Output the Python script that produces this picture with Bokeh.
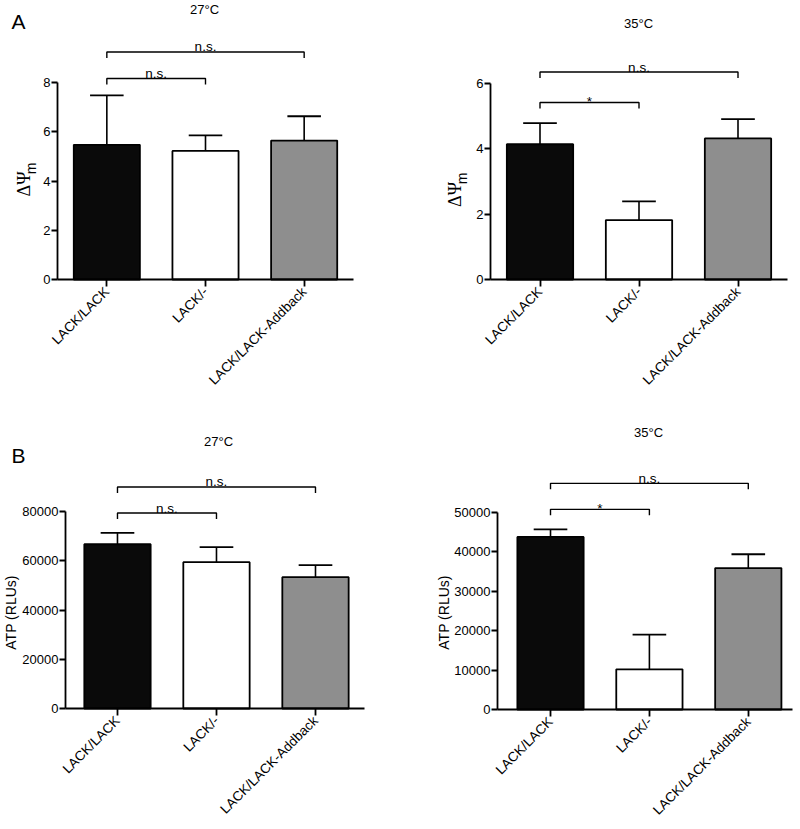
import math
from bokeh.plotting import figure
from bokeh.models import Range1d, FixedTicker, Label
from bokeh.layouts import row, column
from bokeh.embed import file_html
from bokeh.resources import INLINE

# ---------------- data ----------------
categories = ["LACK/LACK", "LACK/-", "LACK/LACK-Addback"]
bar_fill = ["#0a0a0a", "#ffffff", "#8e8e8e"]

dpsi27_mean = [5.47, 5.22, 5.64]
dpsi27_err = [2.01, 0.63, 0.99]
dpsi27_ticks = [0, 2, 4, 6, 8]
dpsi27_sig_pairs = [(0, 1), (0, 2)]
dpsi27_sig_y = [8.16, 9.24]
dpsi27_sig_text = ["n.s.", "n.s."]

dpsi35_mean = [4.14, 1.82, 4.32]
dpsi35_err = [0.65, 0.57, 0.59]
dpsi35_ticks = [0, 2, 4, 6]
dpsi35_sig_pairs = [(0, 1), (0, 2)]
dpsi35_sig_y = [5.42, 6.35]
dpsi35_sig_text = ["*", "n.s."]

atp27_mean = [66800, 59500, 53400]
atp27_err = [4600, 6100, 4900]
atp27_ticks = [0, 20000, 40000, 60000, 80000]
atp27_sig_pairs = [(0, 1), (0, 2)]
atp27_sig_y = [79500, 90100]
atp27_sig_text = ["n.s.", "n.s."]

atp35_mean = [43800, 10200, 35900]
atp35_err = [1900, 8800, 3500]
atp35_ticks = [0, 10000, 20000, 30000, 40000, 50000]
atp35_sig_pairs = [(0, 1), (0, 2)]
atp35_sig_y = [50800, 57400]
atp35_sig_text = ["*", "n.s."]

FONT = "Liberation Sans"
SERIF = "Liberation Serif"


def make_panel(mean, err, ticks, sig_pairs, sig_y, sig_text, title, letter, ylabel, lay):
    W, H = lay["size"]
    ox, oy = lay["origin"]
    fl, fr = lay["frame_x"]          # page x of y-axis and of x-axis end
    fb = lay["frame_bottom"]          # page y of value 0
    x0, x1 = lay["xrange"]
    ppu = lay["ppu"]
    sx = (x1 - x0) / (fr - fl)
    X0 = x0 + (ox - fl) * sx
    X1 = x0 + (ox + W - fl) * sx
    fb_loc = fb - oy
    Y0 = -(H - fb_loc) / ppu
    Y1 = fb_loc / ppu

    def dx(px):
        return x0 + (px - fl) * sx

    def dy(py):
        return (fb - py) / ppu

    p = figure(width=W, height=H, x_range=Range1d(X0, X1), y_range=Range1d(Y0, Y1),
               output_backend="svg", toolbar_location=None,
               min_border_left=0, min_border_right=0,
               min_border_top=0, min_border_bottom=0)
    p.outline_line_color = None
    p.xgrid.visible = False
    p.ygrid.visible = False
    p.background_fill_color = "white"
    p.border_fill_color = "white"

    xs = [i + 0.5 for i in range(len(categories))]
    err_top = [m + e for m, e in zip(mean, err)]
    cap = 0.17
    p.segment(x0=xs, y0=mean, x1=xs, y1=err_top, line_color="black", line_width=1.6)
    p.segment(x0=[x - cap for x in xs], y0=err_top, x1=[x + cap for x in xs], y1=err_top,
              line_color="black", line_width=1.8)
    p.vbar(x=xs, top=mean, bottom=0, width=0.67, fill_color=bar_fill,
           line_color="black", line_width=1.8)

    drop = 6 / ppu
    mx, my = [], []
    tx, ty, tt = [], [], []
    for (i, j), yb, t in zip(sig_pairs, sig_y, sig_text):
        mx.append([xs[i], xs[i], xs[j], xs[j]])
        my.append([yb - drop, yb, yb, yb - drop])
        tx.append((xs[i] + xs[j]) / 2)
        ty.append(yb + (1 if t == "*" else 5) / ppu)
        tt.append(t)
    p.multi_line(xs=mx, ys=my, line_color="black", line_width=1.4)
    p.text(x=tx, y=ty, text=tt, text_align="center", text_baseline="alphabetic",
           text_font_size="13.5px", text_font={"value": FONT}, text_color="black")

    # axes
    p.xaxis.fixed_location = 0
    p.xaxis.ticker = FixedTicker(ticks=xs)
    p.xaxis.major_label_overrides = {x: c for x, c in zip(xs, categories)}
    p.xaxis.major_label_orientation = math.pi / 4
    p.xaxis.bounds = (x0, x1)
    p.xaxis.major_tick_out = 7
    p.xaxis.major_tick_in = 0
    p.xaxis.minor_tick_out = 0
    p.xaxis.minor_tick_in = 0
    p.xaxis.major_label_standoff = 3
    p.xaxis.major_label_text_font_size = "13.5px"
    p.xaxis.major_label_text_font = FONT
    p.xaxis.major_label_text_color = "black"

    p.yaxis.fixed_location = x0
    p.yaxis.ticker = FixedTicker(ticks=ticks)
    p.yaxis.bounds = (0, ticks[-1])
    p.yaxis.major_tick_out = 6
    p.yaxis.major_tick_in = 0
    p.yaxis.minor_tick_out = 0
    p.yaxis.minor_tick_in = 0
    p.yaxis.major_label_standoff = 1
    p.yaxis.major_label_text_font_size = "13px"
    p.yaxis.major_label_text_font = FONT
    p.yaxis.major_label_text_color = "black"

    for ax in (p.xaxis, p.yaxis):
        ax.axis_line_width = 1.8
        ax.axis_line_color = "black"
        ax.major_tick_line_width = 1.8
        ax.major_tick_line_color = "black"

    # texts
    tpx, tpy = lay["title_pos"]
    p.add_layout(Label(x=dx(tpx), y=dy(tpy), text=title, text_align="center",
                       text_baseline="middle", text_font_size="13px", text_font=FONT,
                       text_color="black"))
    if letter:
        lpx, lpy = lay["letter_pos"]
        p.add_layout(Label(x=dx(lpx), y=dy(lpy), text=letter, text_align="center",
                           text_baseline="middle", text_font_size="21px", text_font=FONT,
                           text_color="black"))
    if ylabel == "dpsi":
        a, b = lay["ylab_pos"]
        p.add_layout(Label(x=dx(a), y=dy(b), text="ΔΨ", angle=math.pi / 2,
                           text_align="center", text_baseline="middle",
                           text_font_size="18px", text_font=SERIF, text_color="black"))
        a, b = lay["ysub_pos"]
        p.add_layout(Label(x=dx(a), y=dy(b), text="m", angle=math.pi / 2,
                           text_align="center", text_baseline="middle",
                           text_font_size="14px", text_font=FONT, text_color="black"))
    else:
        a, b = lay["ylab_pos"]
        p.add_layout(Label(x=dx(a), y=dy(b), text=ylabel, angle=math.pi / 2,
                           text_align="center", text_baseline="middle",
                           text_font_size="14px", text_font=FONT, text_color="black"))
    return p


lay1 = dict(size=(400, 420), origin=(0, 0), frame_x=(57, 353), frame_bottom=279,
            xrange=(0, 3), ppu=197 / 8, title_pos=(204, 9), letter_pos=(18, 20.5),
            ylab_pos=(23.5, 183.5), ysub_pos=(30, 168))
lay2 = dict(size=(400, 420), origin=(400, 0), frame_x=(490, 787), frame_bottom=279,
            xrange=(0, 3), ppu=196 / 6, title_pos=(638, 23),
            ylab_pos=(454, 194), ysub_pos=(461.5, 178))
lay3 = dict(size=(400, 409), origin=(0, 420), frame_x=(65, 364), frame_bottom=708,
            xrange=(-0.025, 2.995), ppu=196.7 / 80000, title_pos=(218, 441),
            letter_pos=(18, 455), ylab_pos=(10, 612))
lay4 = dict(size=(400, 409), origin=(400, 420), frame_x=(497, 792), frame_bottom=709,
            xrange=(-0.036, 2.947), ppu=197 / 50000, title_pos=(648, 432),
            ylab_pos=(443.5, 612))

p1 = make_panel(dpsi27_mean, dpsi27_err, dpsi27_ticks, dpsi27_sig_pairs, dpsi27_sig_y,
                dpsi27_sig_text, "27°C", "A", "dpsi", lay1)
p2 = make_panel(dpsi35_mean, dpsi35_err, dpsi35_ticks, dpsi35_sig_pairs, dpsi35_sig_y,
                dpsi35_sig_text, "35°C", None, "dpsi", lay2)
p3 = make_panel(atp27_mean, atp27_err, atp27_ticks, atp27_sig_pairs, atp27_sig_y,
                atp27_sig_text, "27°C", "B", "ATP (RLUs)", lay3)
p4 = make_panel(atp35_mean, atp35_err, atp35_ticks, atp35_sig_pairs, atp35_sig_y,
                atp35_sig_text, "35°C", None, "ATP (RLUs)", lay4)

layout = column(row(p1, p2), row(p3, p4))
open("out.html", "w").write(file_html(layout, INLINE))
